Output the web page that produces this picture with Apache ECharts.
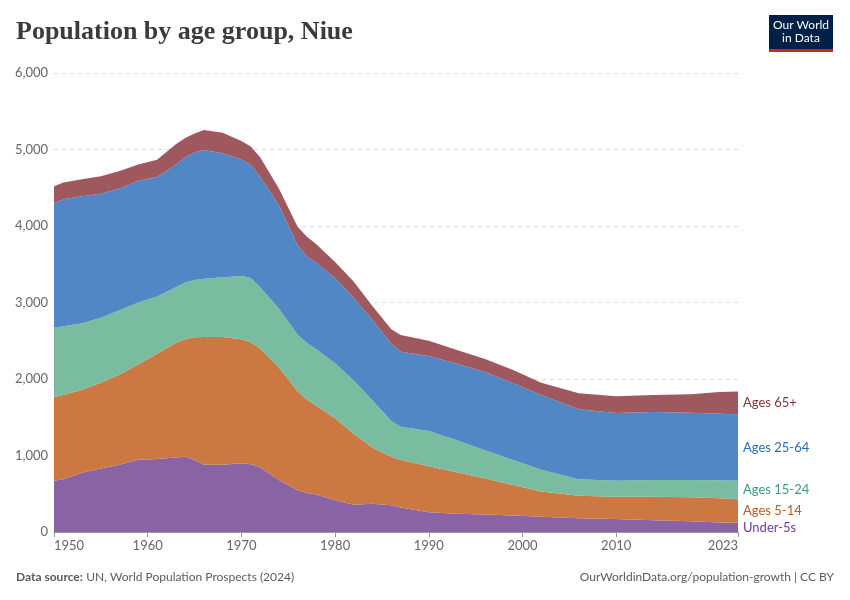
<!DOCTYPE html>
<html>
<head>
<meta charset="utf-8">
<script src="https://cdn.jsdelivr.net/npm/echarts@6/dist/echarts.min.js"></script>
<style>
html,body{margin:0;padding:0;background:#fff;}
#chart{width:850px;height:600px;}
</style>
</head>
<body>
<div id="chart"></div>
<script>
const years    = [1950,1951,1953,1955,1957,1959,1961,1963,1964,1965,1966,1968,1970,1971,1972,1974,1976,1977,1978,1980,1982,1984,1986,1987,1990,1993,1996,1999,2002,2006,2010,2014,2018,2021,2023];
const under5   = [ 670, 690, 775, 830, 880, 945, 955, 975, 985, 940, 878, 880, 898, 885, 845, 680, 545, 510, 490, 415, 355, 368, 350, 320, 257, 240, 230, 215, 200, 180, 170, 155, 140, 125, 122];
const ages5_14 = [1095,1100,1085,1120,1180,1245,1375,1495,1535,1605,1672,1668,1622,1595,1555,1470,1295,1220,1160,1071, 925, 732, 635, 621, 603, 540, 470, 399, 330, 295, 292, 307, 315, 315, 305];
const ages15_24= [ 905, 900, 870, 850, 840, 810, 750, 730, 740, 750, 760, 782, 825, 840, 800, 770, 740, 740, 740, 719, 700, 620, 465, 436, 460, 420, 370, 326, 285, 215, 208, 218, 225, 235, 244];
const ages25_64= [1626,1660,1660,1620,1590,1590,1560,1600,1640,1665,1685,1620,1525,1480,1445,1350,1170,1130,1130,1111,1080,1050,1010, 978, 980,1000,1020,1004, 975, 915, 885, 890, 880, 870, 867];
const ages65   = [ 224, 220, 220, 230, 230, 215, 225, 270, 250, 250, 260, 270, 240, 240, 255, 220, 240, 260, 240, 214, 210, 180, 190, 220, 200, 180, 170, 174, 160, 210, 220, 220, 240, 285, 297];

const seriesNames = ['Under-5s','Ages 5-14','Ages 15-24','Ages 25-64','Ages 65+'];
const seriesData  = [under5, ages5_14, ages15_24, ages25_64, ages65];
const fillColors  = ['#8a63a5','#cc7843','#7abc9f','#5287c6','#a0585f'];
const labelColors = ['#6d3e91','#c05a1f','#3d9a78','#2c6ab7','#883039'];
const xTicks = [1950,1960,1970,1980,1990,2000,2010,2023];

const chart = echarts.init(document.getElementById('chart'), null, {renderer:'canvas'});

// value first, year second, so the stack is applied to the value dimension
const series = seriesNames.map((name, i) => ({
  name: name,
  type: 'line',
  stack: 'total',
  symbol: 'none',
  smooth: false,
  lineStyle: {width: 0},
  areaStyle: {color: fillColors[i], opacity: 1},
  itemStyle: {color: fillColors[i]},
  emphasis: {disabled: true},
  encode: {x: 1, y: 0},
  data: years.map((y, k) => [seriesData[i][k], y])
}));

chart.setOption({
  animation: false,
  backgroundColor: '#fff',
  textStyle: {fontFamily: 'Lato'},
  grid: {left: 54, right: 112, top: 73, bottom: 68, containLabel: false},
  xAxis: {
    type: 'value',
    min: 1950, max: 2023,
    interval: 10,
    splitLine: {show: false},
    axisLine: {show: true, lineStyle: {color: '#999', width: 1}},
    axisTick: {show: true, length: 5, lineStyle: {color: '#999'}, customValues: xTicks},
    axisLabel: {
      color: '#666', fontSize: 13, fontFamily: 'Lato', margin: 7,
      customValues: xTicks,
      alignMinLabel: 'left', alignMaxLabel: 'right',
      formatter: v => String(v)
    }
  },
  yAxis: {
    type: 'value',
    min: 0, max: 6000, interval: 1000,
    axisLine: {show: false},
    axisTick: {show: false},
    splitLine: {show: true, lineStyle: {color: '#dddddd', type: [4, 4], width: 1}},
    axisLabel: {
      color: '#666', fontSize: 13, fontFamily: 'Lato', margin: 6,
      formatter: v => v.toLocaleString('en-US')
    }
  },
  series: series
});

// Right-side labels at band midpoints of the last year
const lastIdx = years.length - 1;
let cum = 0;
const labelGraphics = [];
seriesNames.forEach((name, i) => {
  const v = seriesData[i][lastIdx];
  const mid = cum + v / 2;
  cum += v;
  const p = chart.convertToPixel({gridIndex: 0}, [years[lastIdx], mid]);
  labelGraphics.push({
    type: 'text',
    x: p[0] + 5,
    y: p[1],
    style: {text: name, fill: labelColors[i], font: '13px Lato', verticalAlign: 'middle'}
  });
});

chart.setOption({
  graphic: [
    {type: 'text', x: 16, y: 32,
     style: {text: 'Population by age group, Niue', fill: '#3b3b3b', font: '600 26px "Liberation Serif"', verticalAlign: 'middle'}},
    {type: 'rect', x: 769, y: 15, shape: {width: 64, height: 34}, style: {fill: '#002147'}},
    {type: 'rect', x: 769, y: 49, shape: {width: 64, height: 3}, style: {fill: '#ce261e'}},
    {type: 'text', x: 801, y: 32,
     style: {text: 'Our World\nin Data', fill: '#fff', font: '12px "Liberation Sans Narrow", "Lato"', align: 'center', verticalAlign: 'middle', lineHeight: 13}},
    {type: 'text', x: 16, y: 577,
     style: {rich: {b: {font: 'bold 12px Lato', fill: '#5b5b5b'}, n: {font: '12px Lato', fill: '#5b5b5b'}},
             text: '{b|Data source:} {n|UN, World Population Prospects (2024)}', verticalAlign: 'middle'}},
    {type: 'text', x: 834, y: 577,
     style: {text: 'OurWorldinData.org/population-growth | CC BY', fill: '#5b5b5b', font: '12px Lato', align: 'right', verticalAlign: 'middle'}}
  ].concat(labelGraphics)
});
</script>
</body>
</html>
